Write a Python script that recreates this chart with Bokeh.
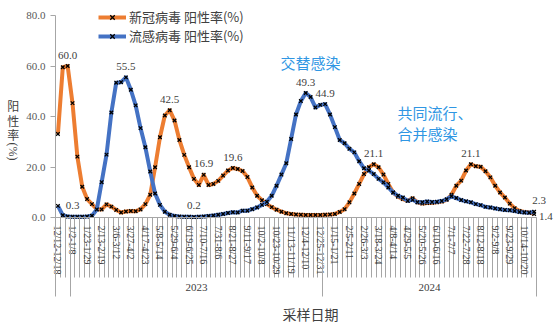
import math
from bokeh.plotting import figure
from bokeh.models import (Range1d, LinearAxis, FixedTicker, NumeralTickFormatter,
                          Legend, LegendItem, Label, LabelSet, ColumnDataSource)
from bokeh.core.properties import value
from bokeh.embed import file_html
from bokeh.resources import INLINE

# ---------------- data ----------------
tick_labels = ["12/12-12/18", "1/2-1/8", "1/23-1/29", "2/13-2/19", "3/6-3/12", "3/27-4/2",
               "4/17-4/23", "5/8-5/14", "5/29-6/4", "6/19-6/25", "7/10-7/16", "7/31-8/6",
               "8/21-8/27", "9/11-9/17", "10/2-10/8", "10/23-10/29", "11/13-11/19", "12/4-12/10",
               "12/25-12/31", "1/15-1/21", "2/5-2/11", "2/26-3/3", "3/18-3/24", "4/8-4/14",
               "4/29-5/5", "5/20-5/26", "6/10-6/16", "7/1-7/7", "7/22-7/28", "8/12-8/18",
               "9/2-9/8", "9/23-9/29", "10/14-10/20"]
label_step = 3

year_labels = ["2023", "2024"]
year_first_week = [3, 55]
year_last_week = [54, 98]

covid = [33.1, 59.5, 60.0, 45.3, 24.1, 12.2, 7.3, 5.3, 3.3, 3.2,
         5.2, 4.3, 3.0, 2.0, 2.4, 2.6, 2.5, 3.2, 5.3, 9.0,
         19.9, 31.8, 40.4, 42.5, 38.4, 30.7, 24.8, 19.9, 15.3, 12.9,
         16.9, 12.9, 13.3, 14.5, 16.6, 18.6, 19.6, 19.2, 18.4, 16.0,
         11.9, 8.6, 6.8, 5.3, 4.1, 3.1, 2.3, 1.7, 1.4, 1.2,
         1.1, 1.0, 1.0, 1.0, 1.0, 1.1, 1.2, 1.4, 2.2, 3.3,
         6.0, 9.5, 13.3, 17.2, 19.9, 21.1, 19.9, 17.0, 13.3, 9.9,
         8.2, 7.3, 6.6, 7.6, 6.0, 5.5, 5.7, 5.8, 6.0, 6.3,
         7.0, 9.0, 12.6, 14.6, 18.6, 21.1, 20.3, 20.1, 18.3, 15.9,
         12.6, 9.9, 7.9, 5.5, 3.7, 2.6, 2.2, 2.0, 1.4]

flu = [4.6, 0.9, 0.4, 0.3, 0.3, 0.3, 0.4, 0.7, 3.2, 14.0,
       24.9, 41.6, 53.4, 53.6, 55.5, 50.6, 44.4, 35.4, 27.8, 18.2,
       9.5, 5.0, 2.3, 1.1, 0.6, 0.4, 0.3, 0.3, 0.2, 0.3,
       0.4, 0.6, 0.8, 1.1, 1.4, 1.8, 2.1, 2.0, 2.7, 2.7,
       3.3, 4.0, 5.0, 6.2, 8.6, 12.6, 17.0, 21.5, 31.1, 40.8,
       46.1, 49.3, 47.7, 43.6, 44.6, 44.9, 40.8, 35.8, 30.7, 29.4,
       27.2, 25.8, 22.3, 19.5, 18.6, 17.2, 15.3, 13.9, 11.9, 9.9,
       8.6, 7.9, 6.6, 7.0, 6.0, 6.0, 6.3, 6.1, 6.2, 6.5,
       7.2, 8.4, 7.7, 6.9, 6.4, 6.0, 5.3, 4.9, 4.2, 4.0,
       3.6, 3.3, 3.0, 2.9, 2.6, 2.2, 2.0, 1.9, 2.3]

covid_label_weeks = [2, 23, 30, 36, 65, 85]
flu_label_weeks = [3, 14, 28, 51, 55]

y_ticks = [0, 20, 40, 60, 80]

n = len(covid)
weeks = list(range(n))

# ---------------- layout (pixels) ----------------
W, H = 555, 326
PL, PR, PT, PB = 55, 536, 15, 217          # plot-area edges in canvas pixels
Y0, Y1 = 0, 80
sx = (PR - PL) / n                          # px per week
sy = (PB - PT) / (Y1 - Y0)                  # px per unit
x_start = -0.5 - PL / sx
x_end = n - 0.5 + (W - PR) / sx
y_end = Y1 + PT / sy
y_start = Y0 - (H - PB) / sy

def dx(px):   # canvas px -> data x
    return x_start + px / sx

def dy(py):   # canvas px (from top) -> data y
    return y_end - py / sy

# ---------------- styles ----------------
ORANGE = "#ED7D31"
BLUE = "#4472C4"
AXIS_GRAY = "#A6A6A6"
TEXT = "#404040"
SERIF = "Liberation Serif"
CJK = "Noto Sans CJK SC"

p = figure(width=W, height=H, x_range=Range1d(x_start, x_end), y_range=Range1d(y_start, y_end),
           output_backend="svg", toolbar_location=None, x_axis_location=None, y_axis_location=None,
           min_border=0, min_border_left=0, min_border_right=0, min_border_top=0, min_border_bottom=0)
p.outline_line_color = None
p.grid.visible = False
p.background_fill_color = "white"

# y axis
yaxis = LinearAxis(ticker=FixedTicker(ticks=y_ticks, minor_ticks=[]),
                   formatter=NumeralTickFormatter(format="0.0"), bounds=(Y0, Y1),
                   major_label_text_font=SERIF, major_label_text_font_size="11px",
                   major_label_text_color="#595959", axis_line_color=AXIS_GRAY,
                   major_tick_line_color=AXIS_GRAY, major_tick_out=5, major_tick_in=0,
                   minor_tick_line_color=None, major_label_standoff=5, fixed_location=-0.5)
p.add_layout(yaxis, "left")

# x axis: separators between weeks
bounds = [k - 0.5 for k in range(n + 1)]
sep_axis = LinearAxis(ticker=FixedTicker(ticks=bounds, minor_ticks=[]), bounds=(-0.5, n - 0.5),
                      major_label_overrides={b: "" for b in bounds},
                      major_label_text_color=None,
                      major_tick_out=60, major_tick_in=0,
                      major_tick_line_color=AXIS_GRAY, axis_line_color=AXIS_GRAY,
                      minor_tick_line_color=None, fixed_location=0)
p.add_layout(sep_axis, "below")

# x axis: week labels
label_pos = [k * label_step for k in range(len(tick_labels))]
lab_axis = LinearAxis(ticker=FixedTicker(ticks=label_pos, minor_ticks=[]),
                      major_label_overrides={pos: t for pos, t in zip(label_pos, tick_labels)},
                      major_label_orientation=-math.pi / 2,
                      major_label_text_font=SERIF, major_label_text_font_size="10px",
                      major_label_text_color=TEXT, major_label_standoff=8,
                      major_tick_out=0, major_tick_in=0, major_tick_line_color=None,
                      axis_line_color=None, minor_tick_line_color=None, fixed_location=0)
p.add_layout(lab_axis, "below")

# x axis: year separators
year_bounds = sorted(set([-0.5, year_first_week[0] - 0.5] + [l + 0.5 for l in year_last_week]))
ysep_axis = LinearAxis(ticker=FixedTicker(ticks=year_bounds, minor_ticks=[]), bounds=(-0.5, n - 0.5),
                       major_label_overrides={b: "" for b in year_bounds},
                       major_label_text_color=None,
                       major_tick_out=79, major_tick_in=0,
                       major_tick_line_color=AXIS_GRAY, axis_line_color=None,
                       minor_tick_line_color=None, fixed_location=0)
p.add_layout(ysep_axis, "below")

# x axis: year labels
year_centers = [(a + b) / 2 for a, b in zip(year_first_week, year_last_week)]
year_axis = LinearAxis(ticker=FixedTicker(ticks=year_centers, minor_ticks=[]),
                       major_label_overrides={c: y for c, y in zip(year_centers, year_labels)},
                       major_label_text_font=SERIF, major_label_text_font_size="11px",
                       major_label_text_color=TEXT, major_label_standoff=66,
                       major_tick_out=0, major_tick_in=0, major_tick_line_color=None,
                       axis_line_color=None, minor_tick_line_color=None, fixed_location=0)
p.add_layout(year_axis, "below")

# series
src = ColumnDataSource(dict(week=weeks, covid=covid, flu=flu))
l1 = p.line("week", "covid", source=src, line_color=ORANGE, line_width=4, line_join="round")
m1 = p.scatter("week", "covid", source=src, marker="x", size=5, line_color="black", line_width=1.3)
l2 = p.line("week", "flu", source=src, line_color=BLUE, line_width=4, line_join="round")
m2 = p.scatter("week", "flu", source=src, marker="x", size=5, line_color="black", line_width=1.3)

# data labels
lab_x = covid_label_weeks + flu_label_weeks
lab_y = [covid[i] for i in covid_label_weeks] + [flu[i] for i in flu_label_weeks]
lab_src = ColumnDataSource(dict(x=lab_x, y=lab_y, t=[f"{v:.1f}" for v in lab_y]))
p.add_layout(LabelSet(x="x", y="y", text="t", source=lab_src, y_offset=11,
                      text_align="center", text_baseline="middle",
                      text_font=value(SERIF), text_font_size=value("11px"), text_color=TEXT))
end_src = ColumnDataSource(dict(x=[n - 1, n - 1], y=[flu[-1], covid[-1]],
                                t=[f"{flu[-1]:.1f}", f"{covid[-1]:.1f}"],
                                ox=[5, 5], oy=[11, -3], al=["center", "left"]))
p.add_layout(LabelSet(x="x", y="y", text="t", source=end_src, x_offset="ox", y_offset="oy",
                      text_align="al", text_baseline="middle",
                      text_font=value(SERIF), text_font_size=value("11px"), text_color=TEXT))

# legend
legend = Legend(items=[LegendItem(label="新冠病毒 阳性率(%)", renderers=[l1, m1]),
                       LegendItem(label="流感病毒 阳性率(%)", renderers=[l2, m2])],
                location=(98, H - 45), orientation="vertical", margin=0, padding=2, spacing=0,
                glyph_width=28, glyph_height=16, label_height=16, label_standoff=3,
                label_text_font=CJK, label_text_font_size="13px", label_text_color=TEXT,
                background_fill_alpha=0, border_line_color=None)
p.add_layout(legend)

# y-axis title: stacked characters, then rotated "(%)"
p.text(x=[dx(12.7)] * 3, y=[dy(105), dy(119.5), dy(134)], text=["阳", "性", "率"],
       text_align="center", text_baseline="middle", text_font=value(CJK),
       text_font_size="12px", text_color=TEXT)
p.text(x=[dx(12.7)], y=[dy(151)], text=["(%)"], angle=-math.pi / 2,
       text_align="center", text_baseline="middle", text_font=value(SERIF),
       text_font_size="12px", text_color=TEXT)

p.add_layout(Label(x=dx(310), y=dy(313), text="采样日期", text_align="center", text_baseline="middle",
                   text_font=CJK, text_font_size="14px", text_color=TEXT))

# annotations
ANN = "#2F96E3"
p.add_layout(Label(x=dx(310), y=dy(61.5), text="交替感染", text_align="center", text_baseline="middle",
                   text_font=CJK, text_font_size="15px", text_color=ANN))
p.add_layout(Label(x=dx(397), y=dy(111.7), text="共同流行、", text_align="left", text_baseline="middle",
                   text_font=CJK, text_font_size="15px", text_color=ANN))
p.add_layout(Label(x=dx(397), y=dy(132.5), text="合并感染", text_align="left", text_baseline="middle",
                   text_font=CJK, text_font_size="15px", text_color=ANN))

open("out.html", "w").write(file_html(p, INLINE))
